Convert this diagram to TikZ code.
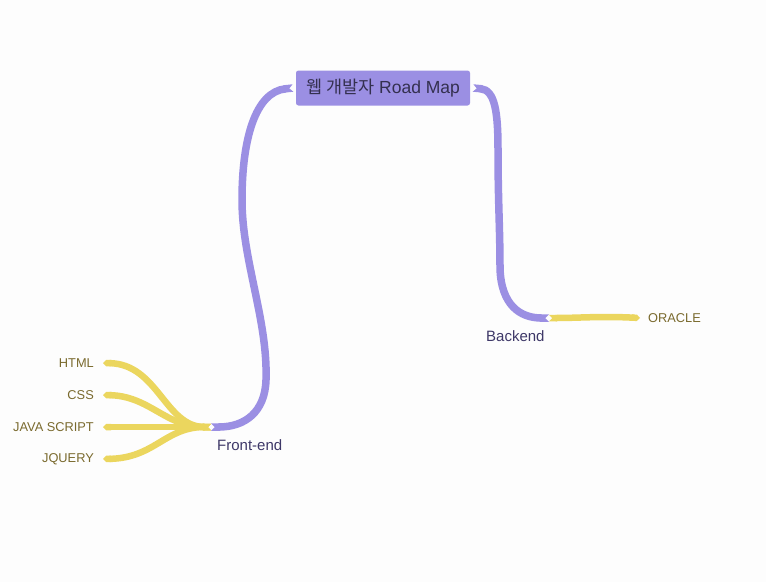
\documentclass[tikz,border=0pt]{standalone}
\usepackage{fontspec}
\setmainfont{Liberation Sans}
\newfontfamily\krfont{Noto Sans CJK KR}
\usetikzlibrary{arrows.meta}
\definecolor{purp}{HTML}{9B8FE3}
\definecolor{yel}{HTML}{EBD65E}
\definecolor{leaftxt}{HTML}{7A6A2E}
\definecolor{midtxt}{HTML}{3E3868}
\definecolor{roottxt}{HTML}{34304F}
\definecolor{bg}{HTML}{FDFDFD}
\begin{document}
\begin{tikzpicture}[x=1pt,y=-1pt,
  pbranch/.style={draw=purp,line width=7.5pt,{Triangle Cap[reversed]}-{Triangle Cap[reversed]}},
  ybranch/.style={draw=yel,line width=6.5pt,{Triangle Cap[reversed]}-{Triangle Cap}},
  leaf/.style={text=leaftxt,font=\fontsize{12.8}{14}\selectfont,anchor=east,inner sep=0pt},
  mid/.style={text=midtxt,font=\fontsize{15}{17}\selectfont,inner sep=0pt},
  rootbox/.style={fill=purp,rounded corners=2.5pt,minimum width=174pt,minimum height=35pt,inner sep=0pt,text=roottxt,font=\fontsize{17.5}{19}\selectfont}]
\fill[bg] (0,0) rectangle (766,582);
\useasboundingbox (0,0) rectangle (766,582);
\node[rootbox] (root) at (383,88) {{\krfont 웹 개발자} Road Map};
\coordinate (rl) at (293,88);
\coordinate (rr) at (473,88);
\coordinate (fe) at (211,427);
\coordinate (be) at (549,318);
\coordinate (html) at (103,363);
\coordinate (css) at (103,395);
\coordinate (js) at (103,427);
\coordinate (jq) at (103,459);
\coordinate (or) at (640,318);
% purple branches
\draw[pbranch] (rl) .. controls (255,92) and (242,140) .. (242,200)
  .. controls (242,260) and (268,320) .. (266,380)
  .. controls (265,412) and (245,427) .. (fe);
\draw[pbranch] (rr) .. controls (495,90) and (498,112) .. (498,150)
  .. controls (498,200) and (500,230) .. (500,268)
  .. controls (501,305) and (520,318) .. (be);
% yellow branches
\draw[ybranch] (fe) .. controls (165,427) and (158,364) .. (html);
\draw[ybranch] (fe) .. controls (165,427) and (150,396) .. (css);
\draw[ybranch] (fe) -- (js);
\draw[ybranch] (fe) .. controls (165,427) and (155,458) .. (jq);
\draw[ybranch] (be) .. controls (580,318) and (600,316) .. (or);
% labels
\node[mid,anchor=north west] (fel) at (217,439) {Front-end};
\node[mid,anchor=north west] (bel) at (486,330) {Backend};
\node[leaf] (htmll) at (94,363) {HTML};
\node[leaf] (cssl) at (94,395) {CSS};
\node[leaf] (jsl) at (94,427) {JAVA SCRIPT};
\node[leaf] (jql) at (94,459) {JQUERY};
\node[leaf,anchor=west] (orl) at (648,318) {ORACLE};
\end{tikzpicture}
\end{document}
